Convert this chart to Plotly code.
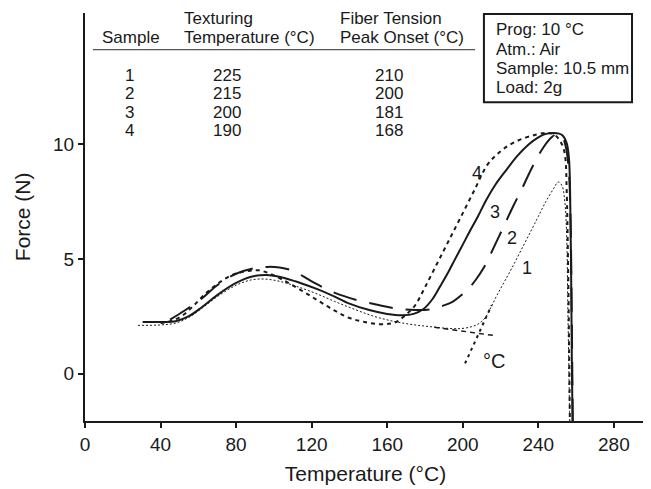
import plotly.graph_objects as go

# ---- data (temperature °C, force N) ----
t1 = [28, 40, 48, 55, 62, 70, 80, 88, 95, 103, 112, 122, 132, 142, 152, 162, 172, 182, 192, 199, 205, 209, 212, 215, 218, 222, 226, 231, 236, 240, 244, 248, 250.5, 252.5, 254, 255, 255.6, 256.2, 256.8]
f1 = [2.1, 2.12, 2.2, 2.45, 2.85, 3.35, 3.85, 4.08, 4.12, 4.02, 3.8, 3.5, 3.15, 2.82, 2.52, 2.3, 2.15, 2.05, 1.97, 1.96, 2.05, 2.2, 2.45, 2.9, 3.4, 4.0, 4.6, 5.4, 6.2, 6.85, 7.5, 8.05, 8.35, 8.2, 7.5, 6.0, 3.0, 0.0, -3.0]

t2 = [45, 53, 62, 70, 80, 90, 97, 103, 110, 120, 131, 144, 156, 166, 175, 183, 190, 195, 199, 203, 207, 211, 215, 219, 223, 227, 231, 235, 239, 243, 247, 250, 252.5, 254.5, 256, 257, 257.5, 258, 258.3]
f2 = [2.35, 2.76, 3.28, 3.85, 4.35, 4.6, 4.65, 4.62, 4.48, 4.02, 3.56, 3.2, 2.98, 2.82, 2.77, 2.8, 2.97, 3.15, 3.4, 3.7, 4.1, 4.6, 5.25, 5.95, 6.65, 7.35, 8.0, 8.7, 9.35, 9.9, 10.3, 10.45, 10.35, 9.9, 9.0, 7.0, 4.0, 0.0, -3.0]

t3 = [30.5, 40, 48, 55, 62, 70, 80, 88, 96, 105, 114, 123, 131, 140, 150, 160, 168, 174, 179, 184, 188, 192, 196, 200, 204, 208, 212, 217, 223, 229, 235, 240, 244, 248, 251, 253, 255, 256.2, 256.8, 257.3, 257.8, 258.3]
f3 = [2.25, 2.25, 2.28, 2.5, 2.9, 3.42, 3.95, 4.22, 4.3, 4.18, 3.95, 3.68, 3.4, 3.05, 2.78, 2.6, 2.54, 2.6, 2.8, 3.25, 3.8, 4.37, 5.0, 5.62, 6.25, 6.85, 7.5, 8.2, 8.87, 9.5, 10.0, 10.3, 10.45, 10.49, 10.46, 10.37, 10.05, 9.4, 8.0, 5.0, 0.0, -3.0]

t4 = [40, 46, 52, 58, 64, 70, 78, 86, 92, 98, 105, 114, 123, 132, 140, 148, 156, 162, 166, 169, 172, 175, 180, 186, 192, 198.5, 206, 213, 219, 225, 232, 239, 244, 248, 251, 253, 254.3, 255, 255.7, 256.3, 256.8]
f4 = [2.2, 2.3, 2.55, 3.0, 3.5, 3.9, 4.3, 4.47, 4.5, 4.35, 4.07, 3.65, 3.2, 2.75, 2.42, 2.25, 2.15, 2.18, 2.3, 2.5, 2.72, 3.0, 3.76, 4.73, 5.7, 6.75, 7.97, 9.1, 9.62, 9.98, 10.25, 10.42, 10.49, 10.45, 10.2, 9.9, 9.4, 8.0, 5.0, 1.0, -3.0]

# onset construction lines for sample 1
tangent_t = [201.2, 215.3]
tangent_f = [0.44, 2.98]
baseline_t = [185, 218]
baseline_f = [2.02, 1.64]

# table contents
samples = ["1", "2", "3", "4"]
texturing_temp = ["225", "215", "200", "190"]
peak_onset = ["210", "200", "181", "168"]
conditions = ["Prog: 10 °C", "Atm.: Air", "Sample: 10.5 mm", "Load: 2g"]

x_ticks = [0, 40, 80, 120, 160, 200, 240, 280]
y_ticks = [0, 5, 10]

FONT = "Liberation Sans, Arial, sans-serif"
INK = "#1a1a1a"

fig = go.Figure()
fig.add_trace(go.Scatter(x=t1, y=f1, mode="lines", line=dict(color=INK, width=1, dash="2px,2px"), line_shape="spline"))
fig.add_trace(go.Scatter(x=t2, y=f2, mode="lines", line=dict(color=INK, width=2, dash="24px,13px"), line_shape="spline"))
fig.add_trace(go.Scatter(x=t3, y=f3, mode="lines", line=dict(color=INK, width=2), line_shape="spline"))
fig.add_trace(go.Scatter(x=t4, y=f4, mode="lines", line=dict(color=INK, width=2, dash="4px,4px"), line_shape="spline"))
fig.add_trace(go.Scatter(x=tangent_t, y=tangent_f, mode="lines", line=dict(color=INK, width=2, dash="3px,4px")))
fig.add_trace(go.Scatter(x=baseline_t, y=baseline_f, mode="lines", line=dict(color=INK, width=1.5, dash="5px,4px")))

ann = []
def txt(x, y, s, size=17, xanchor="center"):
    ann.append(dict(x=x, y=y, xref="x", yref="y", text=s, showarrow=False,
                    font=dict(family=FONT, size=size, color=INK), xanchor=xanchor, yanchor="middle"))

# table header
txt(24.4, 14.66, "Sample")
txt(51.3, 15.5, "Texturing", xanchor="left")
txt(51.3, 14.66, "Temperature (°C)", xanchor="left")
txt(133.9, 15.5, "Fiber Tension", xanchor="left")
txt(133.9, 14.66, "Peak Onset (°C)", xanchor="left")
row_y = [13.0, 12.2, 11.4, 10.6]
for i in range(4):
    txt(23.8, row_y[i], samples[i])
    txt(75.2, row_y[i], texturing_temp[i])
    txt(161.0, row_y[i], peak_onset[i])

# conditions box
cond_y = [15.0, 14.15, 13.3, 12.45]
for i in range(4):
    txt(216.5, cond_y[i], conditions[i], xanchor="left")

# curve labels
txt(207.5, 8.74, "4", size=18)
txt(217.0, 7.04, "3", size=18)
txt(226.0, 5.9, "2", size=18)
txt(234.0, 4.6, "1", size=18)
txt(216.5, 0.55, "°C", size=20)

# y-axis title placed precisely (kept inside the figure)
ann.append(dict(x=-0.112, y=0.5, xref="paper", yref="paper", text="Force (N)", textangle=-90,
                showarrow=False, xanchor="center", yanchor="middle",
                font=dict(family=FONT, size=21, color=INK)))

shapes = [
    dict(type="line", xref="x", yref="y", x0=4.2, x1=206.5, y0=14.12, y1=14.12, line=dict(color="#555", width=1.2)),
    dict(type="rect", xref="x", yref="y", x0=211.2, x1=289.6, y0=11.83, y1=15.68, line=dict(color=INK, width=2)),
]

axis_common = dict(showline=True, linewidth=2, linecolor=INK, ticks="outside", ticklen=5, tickwidth=1.5,
                   tickcolor=INK, showgrid=False, zeroline=False, mirror=False, automargin=False,
                   tickfont=dict(family=FONT, size=19, color=INK))

# the page body adds an 8px offset; size/margins compensate so the plot area sits where the reference's does
fig.update_layout(
    width=643, height=481, autosize=False,
    margin=dict(l=77, r=5, t=5, b=68),
    paper_bgcolor="white", plot_bgcolor="white",
    showlegend=False,
    annotations=ann, shapes=shapes,
    xaxis=dict(range=[0, 297], tickvals=x_ticks, **axis_common,
               title=dict(text="Temperature (°C)", font=dict(family=FONT, size=21, color=INK), standoff=13)),
    yaxis=dict(range=[-2.07, 15.72], tickvals=y_ticks, **axis_common),
)

fig.write_html("out.html")
